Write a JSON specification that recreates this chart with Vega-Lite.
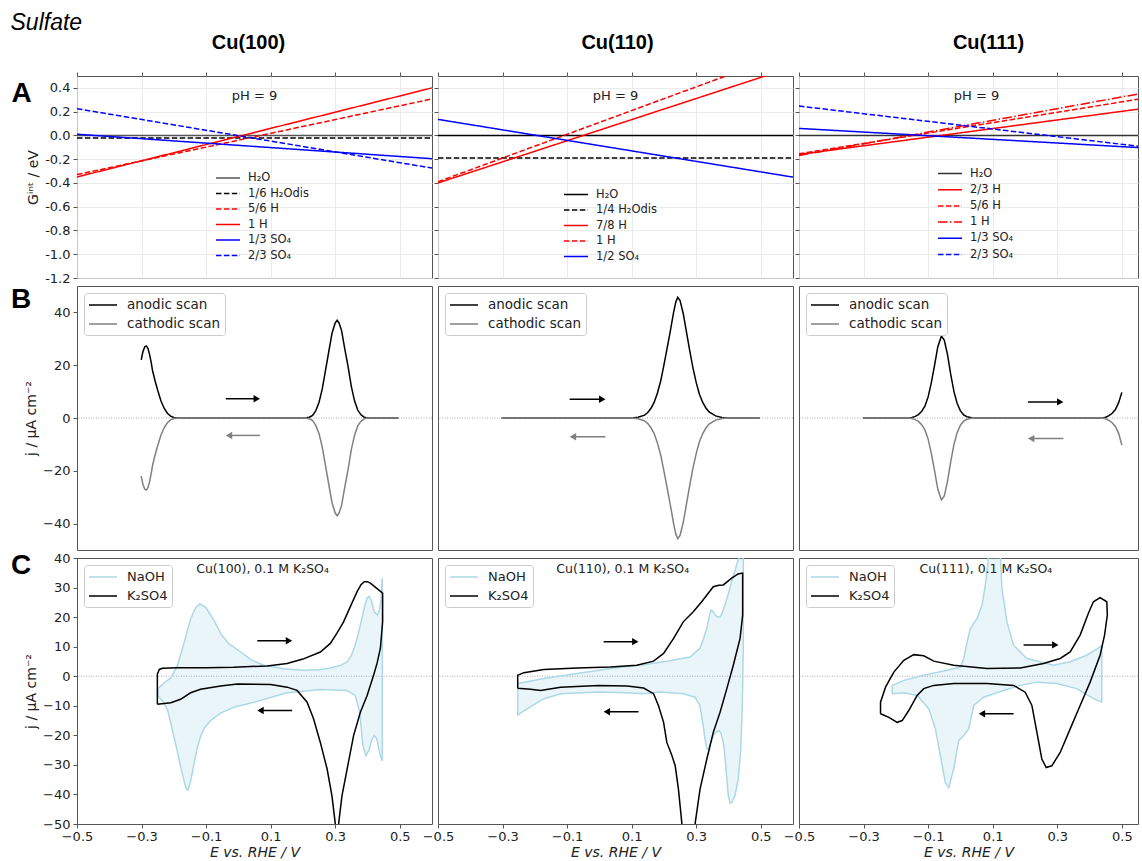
{
"$schema":"https://vega.github.io/schema/vega-lite/v6.json",
"background":"white",
"padding":{"left":10,"top":12,"right":2,"bottom":0},
"title":{"text":"Sulfate","anchor":"start","frame":"bounds","font":"Liberation Sans","fontSize":23,"fontStyle":"italic","fontWeight":"normal","color":"#000000","offset":-21,"baseline":"alphabetic"},
"datasets":{
"gA100":[{"E":-0.5,"G":0,"s":"H₂O"},{"E":0.6,"G":0,"s":"H₂O"},{"E":-0.5,"G":-0.022,"s":"1/6 H₂Odis"},{"E":0.6,"G":-0.022,"s":"1/6 H₂Odis"},{"E":-0.5,"G":-0.33,"s":"5/6 H"},{"E":0.6,"G":0.307,"s":"5/6 H"},{"E":-0.5,"G":-0.35,"s":"1 H"},{"E":0.6,"G":0.40,"s":"1 H"},{"E":-0.5,"G":0.01,"s":"1/3 SO₄"},{"E":0.6,"G":-0.196,"s":"1/3 SO₄"},{"E":-0.5,"G":0.225,"s":"2/3 SO₄"},{"E":0.6,"G":-0.275,"s":"2/3 SO₄"}],
"gA110":[{"E":-0.5,"G":0,"s":"H₂O"},{"E":0.6,"G":0,"s":"H₂O"},{"E":-0.5,"G":-0.19,"s":"1/4 H₂Odis"},{"E":0.6,"G":-0.19,"s":"1/4 H₂Odis"},{"E":-0.5,"G":-0.40,"s":"7/8 H"},{"E":0.6,"G":0.577,"s":"7/8 H"},{"E":-0.5,"G":-0.39,"s":"1 H"},{"E":0.6,"G":0.708,"s":"1 H"},{"E":-0.5,"G":0.135,"s":"1/2 SO₄"},{"E":0.6,"G":-0.351,"s":"1/2 SO₄"}],
"gA111":[{"E":-0.5,"G":0,"s":"H₂O"},{"E":0.6,"G":0,"s":"H₂O"},{"E":-0.5,"G":-0.16,"s":"2/3 H"},{"E":0.6,"G":0.239,"s":"2/3 H"},{"E":-0.5,"G":-0.155,"s":"5/6 H"},{"E":0.6,"G":0.326,"s":"5/6 H"},{"E":-0.5,"G":-0.169,"s":"1 H"},{"E":0.6,"G":0.373,"s":"1 H"},{"E":-0.5,"G":0.059,"s":"1/3 SO₄"},{"E":0.6,"G":-0.110,"s":"1/3 SO₄"},{"E":-0.5,"G":0.247,"s":"2/3 SO₄"},{"E":0.6,"G":-0.107,"s":"2/3 SO₄"}],
"b100":[{"E":-0.301,"j":22,"s":"anodic scan"},{"E":-0.296,"j":25,"s":"anodic scan"},{"E":-0.29,"j":27,"s":"anodic scan"},{"E":-0.285,"j":27.3,"s":"anodic scan"},{"E":-0.28,"j":26.3,"s":"anodic scan"},{"E":-0.275,"j":24,"s":"anodic scan"},{"E":-0.27,"j":21,"s":"anodic scan"},{"E":-0.266,"j":18,"s":"anodic scan"},{"E":-0.258,"j":14,"s":"anodic scan"},{"E":-0.25,"j":10.5,"s":"anodic scan"},{"E":-0.24,"j":6.5,"s":"anodic scan"},{"E":-0.23,"j":3.7,"s":"anodic scan"},{"E":-0.22,"j":1.8,"s":"anodic scan"},{"E":-0.21,"j":0.7,"s":"anodic scan"},{"E":-0.2,"j":0.2,"s":"anodic scan"},{"E":-0.19,"j":0.05,"s":"anodic scan"},{"E":-0.18,"j":0,"s":"anodic scan"},{"E":0.2,"j":0,"s":"anodic scan"},{"E":0.21,"j":0.1,"s":"anodic scan"},{"E":0.22,"j":0.3,"s":"anodic scan"},{"E":0.23,"j":1,"s":"anodic scan"},{"E":0.24,"j":2.8,"s":"anodic scan"},{"E":0.25,"j":6,"s":"anodic scan"},{"E":0.26,"j":11,"s":"anodic scan"},{"E":0.27,"j":18,"s":"anodic scan"},{"E":0.28,"j":25,"s":"anodic scan"},{"E":0.29,"j":32,"s":"anodic scan"},{"E":0.3,"j":36,"s":"anodic scan"},{"E":0.306,"j":37,"s":"anodic scan"},{"E":0.312,"j":36,"s":"anodic scan"},{"E":0.32,"j":33,"s":"anodic scan"},{"E":0.33,"j":26,"s":"anodic scan"},{"E":0.34,"j":19.5,"s":"anodic scan"},{"E":0.35,"j":12,"s":"anodic scan"},{"E":0.36,"j":6.5,"s":"anodic scan"},{"E":0.37,"j":3,"s":"anodic scan"},{"E":0.38,"j":1.2,"s":"anodic scan"},{"E":0.39,"j":0.3,"s":"anodic scan"},{"E":0.4,"j":0.05,"s":"anodic scan"},{"E":0.41,"j":0,"s":"anodic scan"},{"E":0.496,"j":0,"s":"anodic scan"},
{"E":-0.301,"j":-22,"s":"cathodic scan"},{"E":-0.296,"j":-25,"s":"cathodic scan"},{"E":-0.29,"j":-27,"s":"cathodic scan"},{"E":-0.285,"j":-27.3,"s":"cathodic scan"},{"E":-0.28,"j":-26.3,"s":"cathodic scan"},{"E":-0.275,"j":-24,"s":"cathodic scan"},{"E":-0.27,"j":-21,"s":"cathodic scan"},{"E":-0.266,"j":-18,"s":"cathodic scan"},{"E":-0.258,"j":-14,"s":"cathodic scan"},{"E":-0.25,"j":-10.5,"s":"cathodic scan"},{"E":-0.24,"j":-6.5,"s":"cathodic scan"},{"E":-0.23,"j":-3.7,"s":"cathodic scan"},{"E":-0.22,"j":-1.8,"s":"cathodic scan"},{"E":-0.21,"j":-0.7,"s":"cathodic scan"},{"E":-0.2,"j":-0.2,"s":"cathodic scan"},{"E":-0.19,"j":-0.05,"s":"cathodic scan"},{"E":-0.18,"j":0,"s":"cathodic scan"},{"E":0.2,"j":0,"s":"cathodic scan"},{"E":0.21,"j":-0.1,"s":"cathodic scan"},{"E":0.22,"j":-0.3,"s":"cathodic scan"},{"E":0.23,"j":-1,"s":"cathodic scan"},{"E":0.24,"j":-2.8,"s":"cathodic scan"},{"E":0.25,"j":-6,"s":"cathodic scan"},{"E":0.26,"j":-11,"s":"cathodic scan"},{"E":0.27,"j":-18,"s":"cathodic scan"},{"E":0.28,"j":-25,"s":"cathodic scan"},{"E":0.29,"j":-32,"s":"cathodic scan"},{"E":0.3,"j":-36,"s":"cathodic scan"},{"E":0.306,"j":-37,"s":"cathodic scan"},{"E":0.312,"j":-36,"s":"cathodic scan"},{"E":0.32,"j":-33,"s":"cathodic scan"},{"E":0.33,"j":-26,"s":"cathodic scan"},{"E":0.34,"j":-19.5,"s":"cathodic scan"},{"E":0.35,"j":-12,"s":"cathodic scan"},{"E":0.36,"j":-6.5,"s":"cathodic scan"},{"E":0.37,"j":-3,"s":"cathodic scan"},{"E":0.38,"j":-1.2,"s":"cathodic scan"},{"E":0.39,"j":-0.3,"s":"cathodic scan"},{"E":0.4,"j":-0.05,"s":"cathodic scan"},{"E":0.41,"j":0,"s":"cathodic scan"},{"E":0.496,"j":0,"s":"cathodic scan"}],
"b110":[{"E":-0.303,"j":0,"s":"anodic scan"},{"E":0.1,"j":0,"s":"anodic scan"},{"E":0.12,"j":0.3,"s":"anodic scan"},{"E":0.14,"j":1.1,"s":"anodic scan"},{"E":0.15,"j":2.1,"s":"anodic scan"},{"E":0.16,"j":3.7,"s":"anodic scan"},{"E":0.17,"j":6,"s":"anodic scan"},{"E":0.18,"j":9.5,"s":"anodic scan"},{"E":0.19,"j":14,"s":"anodic scan"},{"E":0.2,"j":20,"s":"anodic scan"},{"E":0.21,"j":26.5,"s":"anodic scan"},{"E":0.22,"j":33,"s":"anodic scan"},{"E":0.23,"j":40,"s":"anodic scan"},{"E":0.237,"j":44,"s":"anodic scan"},{"E":0.243,"j":45.7,"s":"anodic scan"},{"E":0.25,"j":44.5,"s":"anodic scan"},{"E":0.26,"j":39.5,"s":"anodic scan"},{"E":0.27,"j":32.5,"s":"anodic scan"},{"E":0.28,"j":25.5,"s":"anodic scan"},{"E":0.29,"j":19,"s":"anodic scan"},{"E":0.3,"j":13.5,"s":"anodic scan"},{"E":0.31,"j":9,"s":"anodic scan"},{"E":0.32,"j":6,"s":"anodic scan"},{"E":0.33,"j":3.8,"s":"anodic scan"},{"E":0.34,"j":2.3,"s":"anodic scan"},{"E":0.36,"j":0.8,"s":"anodic scan"},{"E":0.38,"j":0.2,"s":"anodic scan"},{"E":0.4,"j":0,"s":"anodic scan"},{"E":0.497,"j":0,"s":"anodic scan"},
{"E":-0.303,"j":0,"s":"cathodic scan"},{"E":0.1,"j":0,"s":"cathodic scan"},{"E":0.12,"j":-0.3,"s":"cathodic scan"},{"E":0.14,"j":-1.1,"s":"cathodic scan"},{"E":0.15,"j":-2.1,"s":"cathodic scan"},{"E":0.16,"j":-3.7,"s":"cathodic scan"},{"E":0.17,"j":-6,"s":"cathodic scan"},{"E":0.18,"j":-9.5,"s":"cathodic scan"},{"E":0.19,"j":-14,"s":"cathodic scan"},{"E":0.2,"j":-20,"s":"cathodic scan"},{"E":0.21,"j":-26.5,"s":"cathodic scan"},{"E":0.22,"j":-33,"s":"cathodic scan"},{"E":0.23,"j":-40,"s":"cathodic scan"},{"E":0.237,"j":-44,"s":"cathodic scan"},{"E":0.243,"j":-45.7,"s":"cathodic scan"},{"E":0.25,"j":-44.5,"s":"cathodic scan"},{"E":0.26,"j":-39.5,"s":"cathodic scan"},{"E":0.27,"j":-32.5,"s":"cathodic scan"},{"E":0.28,"j":-25.5,"s":"cathodic scan"},{"E":0.29,"j":-19,"s":"cathodic scan"},{"E":0.3,"j":-13.5,"s":"cathodic scan"},{"E":0.31,"j":-9,"s":"cathodic scan"},{"E":0.32,"j":-6,"s":"cathodic scan"},{"E":0.33,"j":-3.8,"s":"cathodic scan"},{"E":0.34,"j":-2.3,"s":"cathodic scan"},{"E":0.36,"j":-0.8,"s":"cathodic scan"},{"E":0.38,"j":-0.2,"s":"cathodic scan"},{"E":0.4,"j":0,"s":"cathodic scan"},{"E":0.497,"j":0,"s":"cathodic scan"}],
"b111":[{"E":-0.301,"j":0,"s":"anodic scan"},{"E":-0.16,"j":0,"s":"anodic scan"},{"E":-0.15,"j":0.2,"s":"anodic scan"},{"E":-0.14,"j":0.6,"s":"anodic scan"},{"E":-0.13,"j":1.3,"s":"anodic scan"},{"E":-0.12,"j":2.5,"s":"anodic scan"},{"E":-0.11,"j":4.5,"s":"anodic scan"},{"E":-0.1,"j":8,"s":"anodic scan"},{"E":-0.09,"j":13.5,"s":"anodic scan"},{"E":-0.08,"j":20,"s":"anodic scan"},{"E":-0.07,"j":27,"s":"anodic scan"},{"E":-0.059,"j":31,"s":"anodic scan"},{"E":-0.05,"j":29.5,"s":"anodic scan"},{"E":-0.04,"j":24,"s":"anodic scan"},{"E":-0.03,"j":16.5,"s":"anodic scan"},{"E":-0.02,"j":10,"s":"anodic scan"},{"E":-0.01,"j":5.5,"s":"anodic scan"},{"E":0,"j":2.7,"s":"anodic scan"},{"E":0.01,"j":1.2,"s":"anodic scan"},{"E":0.02,"j":0.5,"s":"anodic scan"},{"E":0.035,"j":0.1,"s":"anodic scan"},{"E":0.05,"j":0,"s":"anodic scan"},{"E":0.44,"j":0,"s":"anodic scan"},{"E":0.45,"j":0.3,"s":"anodic scan"},{"E":0.46,"j":0.9,"s":"anodic scan"},{"E":0.47,"j":1.8,"s":"anodic scan"},{"E":0.48,"j":3.2,"s":"anodic scan"},{"E":0.49,"j":5.8,"s":"anodic scan"},{"E":0.5,"j":9.7,"s":"anodic scan"},
{"E":-0.301,"j":0,"s":"cathodic scan"},{"E":-0.16,"j":0,"s":"cathodic scan"},{"E":-0.15,"j":-0.2,"s":"cathodic scan"},{"E":-0.14,"j":-0.6,"s":"cathodic scan"},{"E":-0.13,"j":-1.3,"s":"cathodic scan"},{"E":-0.12,"j":-2.5,"s":"cathodic scan"},{"E":-0.11,"j":-4.5,"s":"cathodic scan"},{"E":-0.1,"j":-8,"s":"cathodic scan"},{"E":-0.09,"j":-13.5,"s":"cathodic scan"},{"E":-0.08,"j":-20,"s":"cathodic scan"},{"E":-0.07,"j":-27,"s":"cathodic scan"},{"E":-0.059,"j":-31,"s":"cathodic scan"},{"E":-0.05,"j":-29.5,"s":"cathodic scan"},{"E":-0.04,"j":-24,"s":"cathodic scan"},{"E":-0.03,"j":-16.5,"s":"cathodic scan"},{"E":-0.02,"j":-10,"s":"cathodic scan"},{"E":-0.01,"j":-5.5,"s":"cathodic scan"},{"E":0,"j":-2.7,"s":"cathodic scan"},{"E":0.01,"j":-1.2,"s":"cathodic scan"},{"E":0.02,"j":-0.5,"s":"cathodic scan"},{"E":0.035,"j":-0.1,"s":"cathodic scan"},{"E":0.05,"j":0,"s":"cathodic scan"},{"E":0.44,"j":0,"s":"cathodic scan"},{"E":0.45,"j":-0.3,"s":"cathodic scan"},{"E":0.46,"j":-0.9,"s":"cathodic scan"},{"E":0.47,"j":-1.8,"s":"cathodic scan"},{"E":0.48,"j":-3.2,"s":"cathodic scan"},{"E":0.49,"j":-5.8,"s":"cathodic scan"},{"E":0.5,"j":-10.2,"s":"cathodic scan"}],
"c100":[{"E":-0.249,"j":-4.2,"s":"NaOH"},{"E":-0.23,"j":-2.2,"s":"NaOH"},{"E":-0.209,"j":-0.5,"s":"NaOH"},{"E":-0.189,"j":3.5,"s":"NaOH"},{"E":-0.168,"j":11.4,"s":"NaOH"},{"E":-0.148,"j":19.4,"s":"NaOH"},{"E":-0.132,"j":23.3,"s":"NaOH"},{"E":-0.119,"j":24.5,"s":"NaOH"},{"E":-0.101,"j":23.3,"s":"NaOH"},{"E":-0.075,"j":18.8,"s":"NaOH"},{"E":-0.055,"j":14.5,"s":"NaOH"},{"E":-0.03,"j":11,"s":"NaOH"},{"E":0.007,"j":8.2,"s":"NaOH"},{"E":0.04,"j":5.5,"s":"NaOH"},{"E":0.079,"j":3.7,"s":"NaOH"},{"E":0.14,"j":2.5,"s":"NaOH"},{"E":0.203,"j":2.0,"s":"NaOH"},{"E":0.25,"j":2.2,"s":"NaOH"},{"E":0.285,"j":2.8,"s":"NaOH"},{"E":0.315,"j":3.6,"s":"NaOH"},{"E":0.337,"j":4.8,"s":"NaOH"},{"E":0.35,"j":7,"s":"NaOH"},{"E":0.362,"j":10.5,"s":"NaOH"},{"E":0.373,"j":15,"s":"NaOH"},{"E":0.383,"j":19.6,"s":"NaOH"},{"E":0.392,"j":24,"s":"NaOH"},{"E":0.399,"j":26.4,"s":"NaOH"},{"E":0.405,"j":27,"s":"NaOH"},{"E":0.411,"j":26,"s":"NaOH"},{"E":0.421,"j":21.8,"s":"NaOH"},{"E":0.431,"j":20.7,"s":"NaOH"},{"E":0.438,"j":22.5,"s":"NaOH"},{"E":0.442,"j":26,"s":"NaOH"},{"E":0.446,"j":33.2,"s":"NaOH"},{"E":0.446,"j":-28.6,"s":"NaOH"},{"E":0.44,"j":-27,"s":"NaOH"},{"E":0.429,"j":-21.2,"s":"NaOH"},{"E":0.421,"j":-20.1,"s":"NaOH"},{"E":0.413,"j":-21.5,"s":"NaOH"},{"E":0.405,"j":-25,"s":"NaOH"},{"E":0.395,"j":-26.9,"s":"NaOH"},{"E":0.386,"j":-23.5,"s":"NaOH"},{"E":0.376,"j":-12.2,"s":"NaOH"},{"E":0.362,"j":-6.5,"s":"NaOH"},{"E":0.337,"j":-4.8,"s":"NaOH"},{"E":0.254,"j":-4.5,"s":"NaOH"},{"E":0.151,"j":-5.6,"s":"NaOH"},{"E":0.048,"j":-8.8,"s":"NaOH"},{"E":-0.014,"j":-10.5,"s":"NaOH"},{"E":-0.055,"j":-12.5,"s":"NaOH"},{"E":-0.086,"j":-15,"s":"NaOH"},{"E":-0.105,"j":-17.5,"s":"NaOH"},{"E":-0.117,"j":-20.3,"s":"NaOH"},{"E":-0.128,"j":-24.5,"s":"NaOH"},{"E":-0.137,"j":-29.4,"s":"NaOH"},{"E":-0.145,"j":-34,"s":"NaOH"},{"E":-0.15,"j":-36.2,"s":"NaOH"},{"E":-0.156,"j":-38.5,"s":"NaOH"},{"E":-0.162,"j":-38,"s":"NaOH"},{"E":-0.167,"j":-36,"s":"NaOH"},{"E":-0.179,"j":-30.5,"s":"NaOH"},{"E":-0.19,"j":-25,"s":"NaOH"},{"E":-0.2,"j":-20.3,"s":"NaOH"},{"E":-0.21,"j":-15.5,"s":"NaOH"},{"E":-0.22,"j":-11.2,"s":"NaOH"},{"E":-0.235,"j":-8.4,"s":"NaOH"},{"E":-0.249,"j":-6.7,"s":"NaOH"},{"E":-0.249,"j":-4.2,"s":"NaOH"},
{"E":-0.251,"j":-9.5,"s":"K₂SO4"},{"E":-0.251,"j":0.7,"s":"K₂SO4"},{"E":-0.245,"j":2.3,"s":"K₂SO4"},{"E":-0.235,"j":2.7,"s":"K₂SO4"},{"E":-0.189,"j":2.9,"s":"K₂SO4"},{"E":-0.1,"j":2.9,"s":"K₂SO4"},{"E":-0.014,"j":3.0,"s":"K₂SO4"},{"E":0.089,"j":3.5,"s":"K₂SO4"},{"E":0.151,"j":4.3,"s":"K₂SO4"},{"E":0.2,"j":5.8,"s":"K₂SO4"},{"E":0.254,"j":8.2,"s":"K₂SO4"},{"E":0.285,"j":11.1,"s":"K₂SO4"},{"E":0.305,"j":14.5,"s":"K₂SO4"},{"E":0.326,"j":18.4,"s":"K₂SO4"},{"E":0.348,"j":23.8,"s":"K₂SO4"},{"E":0.368,"j":28.6,"s":"K₂SO4"},{"E":0.38,"j":31,"s":"K₂SO4"},{"E":0.39,"j":32,"s":"K₂SO4"},{"E":0.4,"j":32,"s":"K₂SO4"},{"E":0.409,"j":31.5,"s":"K₂SO4"},{"E":0.428,"j":29.8,"s":"K₂SO4"},{"E":0.447,"j":28.1,"s":"K₂SO4"},{"E":0.447,"j":18.4,"s":"K₂SO4"},{"E":0.44,"j":9.4,"s":"K₂SO4"},{"E":0.43,"j":4.5,"s":"K₂SO4"},{"E":0.419,"j":0.3,"s":"K₂SO4"},{"E":0.399,"j":-6.5,"s":"K₂SO4"},{"E":0.378,"j":-12.2,"s":"K₂SO4"},{"E":0.357,"j":-20.1,"s":"K₂SO4"},{"E":0.337,"j":-31.4,"s":"K₂SO4"},{"E":0.321,"j":-40.5,"s":"K₂SO4"},{"E":0.311,"j":-49.6,"s":"K₂SO4"},{"E":0.308,"j":-56,"s":"K₂SO4"},{"E":0.302,"j":-56,"s":"K₂SO4"},{"E":0.3,"j":-49.6,"s":"K₂SO4"},{"E":0.29,"j":-40.5,"s":"K₂SO4"},{"E":0.275,"j":-31.4,"s":"K₂SO4"},{"E":0.254,"j":-22.4,"s":"K₂SO4"},{"E":0.233,"j":-14.4,"s":"K₂SO4"},{"E":0.213,"j":-8.8,"s":"K₂SO4"},{"E":0.182,"j":-4.8,"s":"K₂SO4"},{"E":0.151,"j":-3.7,"s":"K₂SO4"},{"E":0.1,"j":-2.8,"s":"K₂SO4"},{"E":-0.003,"j":-2.6,"s":"K₂SO4"},{"E":-0.055,"j":-3.3,"s":"K₂SO4"},{"E":-0.117,"j":-4.4,"s":"K₂SO4"},{"E":-0.148,"j":-5.6,"s":"K₂SO4"},{"E":-0.179,"j":-7.8,"s":"K₂SO4"},{"E":-0.209,"j":-9,"s":"K₂SO4"},{"E":-0.251,"j":-9.5,"s":"K₂SO4"}],
"c110":[{"E":-0.253,"j":-2.5,"s":"NaOH"},{"E":-0.172,"j":-0.8,"s":"NaOH"},{"E":-0.069,"j":0.9,"s":"NaOH"},{"E":0.034,"j":2.6,"s":"NaOH"},{"E":0.137,"j":3.9,"s":"NaOH"},{"E":0.209,"j":5.1,"s":"NaOH"},{"E":0.281,"j":6.5,"s":"NaOH"},{"E":0.3115,"j":9.4,"s":"NaOH"},{"E":0.322,"j":12.5,"s":"NaOH"},{"E":0.333,"j":16.2,"s":"NaOH"},{"E":0.34,"j":20,"s":"NaOH"},{"E":0.346,"j":22.4,"s":"NaOH"},{"E":0.352,"j":22,"s":"NaOH"},{"E":0.359,"j":20.7,"s":"NaOH"},{"E":0.366,"j":20,"s":"NaOH"},{"E":0.374,"j":20,"s":"NaOH"},{"E":0.381,"j":21.5,"s":"NaOH"},{"E":0.389,"j":24.1,"s":"NaOH"},{"E":0.4,"j":28,"s":"NaOH"},{"E":0.41,"j":32,"s":"NaOH"},{"E":0.4255,"j":37.7,"s":"NaOH"},{"E":0.436,"j":41.1,"s":"NaOH"},{"E":0.442,"j":46,"s":"NaOH"},{"E":0.446,"j":46,"s":"NaOH"},{"E":0.446,"j":10,"s":"NaOH"},{"E":0.443,"j":-10,"s":"NaOH"},{"E":0.438,"j":-25,"s":"NaOH"},{"E":0.43,"j":-35,"s":"NaOH"},{"E":0.42,"j":-40.5,"s":"NaOH"},{"E":0.41,"j":-42.8,"s":"NaOH"},{"E":0.405,"j":-43,"s":"NaOH"},{"E":0.399,"j":-40,"s":"NaOH"},{"E":0.393,"j":-32,"s":"NaOH"},{"E":0.389,"j":-27,"s":"NaOH"},{"E":0.384,"j":-22.4,"s":"NaOH"},{"E":0.376,"j":-19,"s":"NaOH"},{"E":0.369,"j":-18.4,"s":"NaOH"},{"E":0.36,"j":-19,"s":"NaOH"},{"E":0.353,"j":-20.1,"s":"NaOH"},{"E":0.345,"j":-22.5,"s":"NaOH"},{"E":0.338,"j":-24.6,"s":"NaOH"},{"E":0.333,"j":-24.6,"s":"NaOH"},{"E":0.327,"j":-21,"s":"NaOH"},{"E":0.322,"j":-17,"s":"NaOH"},{"E":0.3115,"j":-9.9,"s":"NaOH"},{"E":0.2966,"j":-7.1,"s":"NaOH"},{"E":0.2604,"j":-5.9,"s":"NaOH"},{"E":0.188,"j":-5.3,"s":"NaOH"},{"E":0.137,"j":-5.9,"s":"NaOH"},{"E":0.0855,"j":-5.6,"s":"NaOH"},{"E":-0.002,"j":-5.3,"s":"NaOH"},{"E":-0.12,"j":-5.9,"s":"NaOH"},{"E":-0.172,"j":-7.6,"s":"NaOH"},{"E":-0.223,"j":-11,"s":"NaOH"},{"E":-0.253,"j":-13.1,"s":"NaOH"},{"E":-0.253,"j":-2.5,"s":"NaOH"},
{"E":-0.253,"j":-4.1,"s":"K₂SO4"},{"E":-0.253,"j":0.3,"s":"K₂SO4"},{"E":-0.234,"j":1.2,"s":"K₂SO4"},{"E":-0.172,"j":2.3,"s":"K₂SO4"},{"E":-0.069,"j":2.8,"s":"K₂SO4"},{"E":0.034,"j":3.1,"s":"K₂SO4"},{"E":0.116,"j":3.7,"s":"K₂SO4"},{"E":0.168,"j":5.1,"s":"K₂SO4"},{"E":0.199,"j":7.7,"s":"K₂SO4"},{"E":0.23,"j":12.8,"s":"K₂SO4"},{"E":0.26,"j":18.4,"s":"K₂SO4"},{"E":0.291,"j":21.8,"s":"K₂SO4"},{"E":0.317,"j":25.2,"s":"K₂SO4"},{"E":0.353,"j":30.3,"s":"K₂SO4"},{"E":0.37,"j":30.8,"s":"K₂SO4"},{"E":0.384,"j":30.9,"s":"K₂SO4"},{"E":0.41,"j":33.2,"s":"K₂SO4"},{"E":0.43,"j":34.6,"s":"K₂SO4"},{"E":0.444,"j":34.9,"s":"K₂SO4"},{"E":0.444,"j":20.7,"s":"K₂SO4"},{"E":0.436,"j":12.8,"s":"K₂SO4"},{"E":0.415,"j":3.7,"s":"K₂SO4"},{"E":0.395,"j":-4.2,"s":"K₂SO4"},{"E":0.374,"j":-12.2,"s":"K₂SO4"},{"E":0.353,"j":-19,"s":"K₂SO4"},{"E":0.333,"j":-28,"s":"K₂SO4"},{"E":0.312,"j":-38.2,"s":"K₂SO4"},{"E":0.297,"j":-49.6,"s":"K₂SO4"},{"E":0.294,"j":-56,"s":"K₂SO4"},{"E":0.257,"j":-56,"s":"K₂SO4"},{"E":0.2555,"j":-49.6,"s":"K₂SO4"},{"E":0.245,"j":-38.2,"s":"K₂SO4"},{"E":0.235,"j":-30.3,"s":"K₂SO4"},{"E":0.225,"j":-26.9,"s":"K₂SO4"},{"E":0.209,"j":-22.4,"s":"K₂SO4"},{"E":0.199,"j":-15.6,"s":"K₂SO4"},{"E":0.183,"j":-9.9,"s":"K₂SO4"},{"E":0.168,"j":-5.9,"s":"K₂SO4"},{"E":0.137,"j":-4,"s":"K₂SO4"},{"E":0.0855,"j":-3.3,"s":"K₂SO4"},{"E":-0.002,"j":-3.1,"s":"K₂SO4"},{"E":-0.12,"j":-3.7,"s":"K₂SO4"},{"E":-0.1825,"j":-4.8,"s":"K₂SO4"},{"E":-0.213,"j":-4.4,"s":"K₂SO4"},{"E":-0.253,"j":-4.1,"s":"K₂SO4"}],
"c111":[{"E":-0.2113,"j":-5.9,"s":"NaOH"},{"E":-0.2113,"j":-3.1,"s":"NaOH"},{"E":-0.1754,"j":-1.4,"s":"NaOH"},{"E":-0.1136,"j":0.3,"s":"NaOH"},{"E":-0.0415,"j":2,"s":"NaOH"},{"E":0.0,"j":3.1,"s":"NaOH"},{"E":0.0103,"j":6,"s":"NaOH"},{"E":0.0206,"j":11.6,"s":"NaOH"},{"E":0.031,"j":16.2,"s":"NaOH"},{"E":0.0516,"j":19.6,"s":"NaOH"},{"E":0.067,"j":24.1,"s":"NaOH"},{"E":0.076,"j":30,"s":"NaOH"},{"E":0.0824,"j":35.4,"s":"NaOH"},{"E":0.0876,"j":41,"s":"NaOH"},{"E":0.09,"j":46,"s":"NaOH"},{"E":0.12,"j":46,"s":"NaOH"},{"E":0.1235,"j":41,"s":"NaOH"},{"E":0.1286,"j":29.8,"s":"NaOH"},{"E":0.144,"j":18.4,"s":"NaOH"},{"E":0.1646,"j":10.5,"s":"NaOH"},{"E":0.2058,"j":6,"s":"NaOH"},{"E":0.247,"j":4.9,"s":"NaOH"},{"E":0.288,"j":3.7,"s":"NaOH"},{"E":0.3399,"j":4.9,"s":"NaOH"},{"E":0.3914,"j":7.1,"s":"NaOH"},{"E":0.4326,"j":9.9,"s":"NaOH"},{"E":0.4378,"j":10.5,"s":"NaOH"},{"E":0.4378,"j":-8.8,"s":"NaOH"},{"E":0.4119,"j":-7.6,"s":"NaOH"},{"E":0.3605,"j":-4.2,"s":"NaOH"},{"E":0.2985,"j":-2.5,"s":"NaOH"},{"E":0.2367,"j":-2,"s":"NaOH"},{"E":0.1853,"j":-3.1,"s":"NaOH"},{"E":0.1338,"j":-4.8,"s":"NaOH"},{"E":0.0721,"j":-7.1,"s":"NaOH"},{"E":0.0412,"j":-9.9,"s":"NaOH"},{"E":0.0255,"j":-17.8,"s":"NaOH"},{"E":0.0103,"j":-20.1,"s":"NaOH"},{"E":-0.0055,"j":-21.8,"s":"NaOH"},{"E":-0.0209,"j":-31.4,"s":"NaOH"},{"E":-0.0363,"j":-37.7,"s":"NaOH"},{"E":-0.0466,"j":-36,"s":"NaOH"},{"E":-0.062,"j":-26.9,"s":"NaOH"},{"E":-0.0775,"j":-17.8,"s":"NaOH"},{"E":-0.0981,"j":-11,"s":"NaOH"},{"E":-0.1342,"j":-6.5,"s":"NaOH"},{"E":-0.1754,"j":-5.6,"s":"NaOH"},{"E":-0.2113,"j":-5.9,"s":"NaOH"},
{"E":-0.2475,"j":-12.7,"s":"K₂SO4"},{"E":-0.2475,"j":-8.8,"s":"K₂SO4"},{"E":-0.232,"j":-3.7,"s":"K₂SO4"},{"E":-0.2063,"j":1.4,"s":"K₂SO4"},{"E":-0.1754,"j":5.4,"s":"K₂SO4"},{"E":-0.1445,"j":7.3,"s":"K₂SO4"},{"E":-0.1136,"j":6.9,"s":"K₂SO4"},{"E":-0.0827,"j":5.1,"s":"K₂SO4"},{"E":-0.0209,"j":3.7,"s":"K₂SO4"},{"E":0.0824,"j":2.6,"s":"K₂SO4"},{"E":0.1853,"j":2.8,"s":"K₂SO4"},{"E":0.2573,"j":4.3,"s":"K₂SO4"},{"E":0.309,"j":6,"s":"K₂SO4"},{"E":0.3399,"j":8.2,"s":"K₂SO4"},{"E":0.3708,"j":13.9,"s":"K₂SO4"},{"E":0.3964,"j":21.3,"s":"K₂SO4"},{"E":0.4119,"j":25.2,"s":"K₂SO4"},{"E":0.4326,"j":26.6,"s":"K₂SO4"},{"E":0.4533,"j":25.2,"s":"K₂SO4"},{"E":0.455,"j":20.7,"s":"K₂SO4"},{"E":0.4464,"j":13.9,"s":"K₂SO4"},{"E":0.4326,"j":7.1,"s":"K₂SO4"},{"E":0.4017,"j":-2,"s":"K₂SO4"},{"E":0.3708,"j":-9.9,"s":"K₂SO4"},{"E":0.3399,"j":-17.8,"s":"K₂SO4"},{"E":0.309,"j":-25.8,"s":"K₂SO4"},{"E":0.2831,"j":-30.3,"s":"K₂SO4"},{"E":0.2657,"j":-30.9,"s":"K₂SO4"},{"E":0.2521,"j":-28,"s":"K₂SO4"},{"E":0.2369,"j":-19,"s":"K₂SO4"},{"E":0.2213,"j":-9.9,"s":"K₂SO4"},{"E":0.2007,"j":-5.4,"s":"K₂SO4"},{"E":0.1646,"j":-3.1,"s":"K₂SO4"},{"E":0.0824,"j":-2.5,"s":"K₂SO4"},{"E":-0.0209,"j":-2.5,"s":"K₂SO4"},{"E":-0.0827,"j":-3.1,"s":"K₂SO4"},{"E":-0.1136,"j":-4.2,"s":"K₂SO4"},{"E":-0.1342,"j":-6.5,"s":"K₂SO4"},{"E":-0.16,"j":-11.6,"s":"K₂SO4"},{"E":-0.1804,"j":-15,"s":"K₂SO4"},{"E":-0.1959,"j":-15.6,"s":"K₂SO4"},{"E":-0.2217,"j":-13.9,"s":"K₂SO4"},{"E":-0.2475,"j":-12.7,"s":"K₂SO4"}],
"arB100":[{"E":-0.039,"j":7.3,"a":"R","h":0},{"E":0.057,"j":7.3,"a":"R","h":1},{"E":0.067,"j":-6.6,"a":"L","h":0},{"E":-0.029,"j":-6.6,"a":"L","h":1}],
"arB110":[{"E":-0.092,"j":7.1,"a":"R","h":0},{"E":0.009,"j":7.1,"a":"R","h":1},{"E":0.019,"j":-7.1,"a":"L","h":0},{"E":-0.082,"j":-7.1,"a":"L","h":1}],
"arB111":[{"E":0.209,"j":6.1,"a":"R","h":0},{"E":0.309,"j":6.1,"a":"R","h":1},{"E":0.319,"j":-7.8,"a":"L","h":0},{"E":0.219,"j":-7.8,"a":"L","h":1}],
"arC100":[{"E":0.0585,"j":12,"a":"R","h":0},{"E":0.1567,"j":12,"a":"R","h":1},{"E":0.1667,"j":-11.6,"a":"L","h":0},{"E":0.0685,"j":-11.6,"a":"L","h":1}],
"arC110":[{"E":0.0132,"j":11.7,"a":"R","h":0},{"E":0.1114,"j":11.7,"a":"R","h":1},{"E":0.1214,"j":-12,"a":"L","h":0},{"E":0.0232,"j":-12,"a":"L","h":1}],
"arC111":[{"E":0.1956,"j":10.6,"a":"R","h":0},{"E":0.2938,"j":10.6,"a":"R","h":1},{"E":0.1647,"j":-12.7,"a":"L","h":0},{"E":0.0666,"j":-12.7,"a":"L","h":1}]
},
"columns":3,
"spacing":{"row":8,"column":6},
"bounds":"flush",
"resolve":{"scale":{"color":"independent","strokeDash":"independent","x":"independent","y":"independent"}},
"concat":[
 {"width":355,"height":202,
  "title":{"text":"Cu(100)","font":"Liberation Sans","fontSize":20,"fontWeight":"bold","color":"#000000","anchor":"middle","frame":"group","offset":3,"baseline":"alphabetic","dx":-6},
  "layer":[
   {"data":{"name":"gA100"},"mark":{"type":"line","clip":true,"strokeWidth":1.5},
    "encoding":{
     "x":{"field":"E","type":"quantitative","scale":{"domain":[-0.5,0.6],"nice":false,"zero":false},"axis":{"orient":"top","values":[-0.5,-0.3,-0.1,0.1,0.3,0.5],"tickCount":20,"labels":false,"grid":true,"title":"A","titleX":-66,"titleY":25,"titleAlign":"left","titleAnchor":"start","titleBaseline":"alphabetic","titleAngle":0,"titleFont":"Liberation Sans","titleFontSize":28,"titleFontWeight":"bold","titleColor":"#000000"}},
     "y":{"field":"G","type":"quantitative","scale":{"domain":[-1.2,0.5],"nice":false,"zero":false},"axis":{"values":[-1.2,-1.0,-0.8,-0.6,-0.4,-0.2,0,0.2,0.4],"tickCount":20,"grid":true,"labelOverlap":false,"title":"Gⁱⁿᵗ / eV","labelExpr":"replace(format(datum.value,'.1f'),'−','-')"}},
     "color":{"field":"s","type":"nominal","scale":{"domain":["H₂O","1/6 H₂Odis","5/6 H","1 H","1/3 SO₄","2/3 SO₄"],"range":["#555555","#000000","#ff0000","#ff0000","#0000ff","#0000ff"]},"legend":{"title":null,"orient":"none","legendX":138,"legendY":95,"padding":0,"symbolType":"M-1,0L3,0","symbolSize":144,"symbolStrokeWidth":1.5,"labelOffset":19,"labelFontSize":11.5,"rowPadding":2.5}},
     "strokeDash":{"field":"s","type":"nominal","scale":{"domain":["H₂O","1/6 H₂Odis","5/6 H","1 H","1/3 SO₄","2/3 SO₄"],"range":[[1,0],[5.5,2.4],[5.5,2.4],[1,0],[1,0],[5.5,2.4]]},"legend":{"title":null,"orient":"none","legendX":138,"legendY":95,"padding":0,"symbolType":"M-1,0L3,0","symbolSize":144,"symbolStrokeWidth":1.5,"labelOffset":19,"labelFontSize":11.5,"rowPadding":2.5}}
    }},
   {"data":{"values":[{}]},"mark":{"type":"text","fontSize":13,"color":"#222222"},"encoding":{"x":{"datum":0.05},"y":{"datum":0.33},"text":{"value":"pH = 9"}}}
  ]},
 {"width":355,"height":202,
  "title":{"text":"Cu(110)","font":"Liberation Sans","fontSize":20,"fontWeight":"bold","color":"#000000","anchor":"middle","frame":"group","offset":3,"baseline":"alphabetic","dx":2},
  "layer":[
   {"data":{"name":"gA110"},"mark":{"type":"line","clip":true,"strokeWidth":1.5},
    "encoding":{
     "x":{"field":"E","type":"quantitative","scale":{"domain":[-0.5,0.6],"nice":false,"zero":false},"axis":{"orient":"top","values":[-0.5,-0.3,-0.1,0.1,0.3,0.5],"tickCount":20,"labels":false,"grid":true,"title":null}},
     "y":{"field":"G","type":"quantitative","scale":{"domain":[-1.2,0.5],"nice":false,"zero":false},"axis":{"values":[-1.2,-1.0,-0.8,-0.6,-0.4,-0.2,0,0.2,0.4],"tickCount":20,"grid":true,"labels":false,"title":null}},
     "color":{"field":"s","type":"nominal","scale":{"domain":["H₂O","1/4 H₂Odis","7/8 H","1 H","1/2 SO₄"],"range":["#000000","#000000","#ff0000","#ff0000","#0000ff"]},"legend":{"title":null,"orient":"none","legendX":125,"legendY":111.5,"padding":0,"symbolType":"M-1,0L3,0","symbolSize":144,"symbolStrokeWidth":1.5,"labelOffset":19,"labelFontSize":11.5,"rowPadding":2.5}},
     "strokeDash":{"field":"s","type":"nominal","scale":{"domain":["H₂O","1/4 H₂Odis","7/8 H","1 H","1/2 SO₄"],"range":[[1,0],[5.5,2.4],[1,0],[5.5,2.4],[1,0]]},"legend":{"title":null,"orient":"none","legendX":125,"legendY":111.5,"padding":0,"symbolType":"M-1,0L3,0","symbolSize":144,"symbolStrokeWidth":1.5,"labelOffset":19,"labelFontSize":11.5,"rowPadding":2.5}}
    }},
   {"data":{"values":[{}]},"mark":{"type":"text","fontSize":13,"color":"#222222"},"encoding":{"x":{"datum":0.05},"y":{"datum":0.33},"text":{"value":"pH = 9"}}}
  ]},
 {"width":339,"height":202,
  "title":{"text":"Cu(111)","font":"Liberation Sans","fontSize":20,"fontWeight":"bold","color":"#000000","anchor":"middle","frame":"group","offset":3,"baseline":"alphabetic","dx":20},
  "layer":[
   {"data":{"name":"gA111"},"mark":{"type":"line","clip":true,"strokeWidth":1.5},
    "encoding":{
     "x":{"field":"E","type":"quantitative","scale":{"domain":[-0.5,0.55],"nice":false,"zero":false},"axis":{"orient":"top","values":[-0.5,-0.3,-0.1,0.1,0.3,0.5],"tickCount":20,"labels":false,"grid":true,"title":null}},
     "y":{"field":"G","type":"quantitative","scale":{"domain":[-1.2,0.5],"nice":false,"zero":false},"axis":{"values":[-1.2,-1.0,-0.8,-0.6,-0.4,-0.2,0,0.2,0.4],"tickCount":20,"grid":true,"labels":false,"title":null}},
     "color":{"field":"s","type":"nominal","scale":{"domain":["H₂O","2/3 H","5/6 H","1 H","1/3 SO₄","2/3 SO₄"],"range":["#333333","#ff0000","#ff0000","#ff0000","#0000ff","#0000ff"]},"legend":{"title":null,"orient":"none","legendX":138,"legendY":90.5,"padding":0,"symbolType":"M-1,0L3,0","symbolSize":144,"symbolStrokeWidth":1.5,"labelOffset":19,"labelFontSize":11.5,"rowPadding":3.2}},
     "strokeDash":{"field":"s","type":"nominal","scale":{"domain":["H₂O","2/3 H","5/6 H","1 H","1/3 SO₄","2/3 SO₄"],"range":[[1,0],[1,0],[5.5,2.4],[9.6,2.4,1.5,2.4],[1,0],[5.5,2.4]]},"legend":{"title":null,"orient":"none","legendX":138,"legendY":90.5,"padding":0,"symbolType":"M-1,0L3,0","symbolSize":144,"symbolStrokeWidth":1.5,"labelOffset":19,"labelFontSize":11.5,"rowPadding":3.2}}
    }},
   {"data":{"values":[{}]},"mark":{"type":"text","fontSize":13,"color":"#222222"},"encoding":{"x":{"datum":0.05},"y":{"datum":0.33},"text":{"value":"pH = 9"}}}
  ]},
 {"width":355,"height":264,
  "title":{"text":"B","font":"Liberation Sans","fontSize":28,"fontWeight":"bold","color":"#000000","anchor":"start","frame":"group","offset":-26,"dx":-66,"dy":24,"baseline":"alphabetic"},
  "layer":[
   {"data":{"name":"b100"},"mark":{"type":"line","clip":true,"strokeWidth":1.5},
    "encoding":{
     "x":{"field":"E","type":"quantitative","scale":{"domain":[-0.5,0.6],"nice":false,"zero":false},"axis":null},
     "y":{"field":"j","type":"quantitative","scale":{"domain":[-50,50],"nice":false,"zero":false},"axis":{"values":[-40,-20,0,20,40],"tickCount":20,"labelOverlap":false,"title":"j / μA cm⁻²"}},
     "color":{"field":"s","type":"nominal","scale":{"domain":["anodic scan","cathodic scan"],"range":["#000000","#808080"]},"legend":{"title":null,"orient":"top-left","offset":6.5,"padding":4,"symbolType":"M-1,0L3,0","symbolSize":196,"symbolStrokeWidth":1.5,"labelOffset":23,"labelFontSize":13.5,"rowPadding":4,"strokeColor":"#cccccc","cornerRadius":3,"fillColor":"#ffffff"}}}},
   {"data":{"values":[{}]},"mark":{"type":"rule","color":"#999999","strokeWidth":0.8,"strokeDash":[1,1.5]},"encoding":{"y":{"datum":0}}},
   {"data":{"name":"arB100"},"transform":[{"filter":"datum.a === 'R'"}],"mark":{"type":"line","color":"#000000","strokeWidth":1.5},"encoding":{"x":{"field":"E","type":"quantitative","axis":null},"y":{"field":"j","type":"quantitative"}}},
   {"data":{"name":"arB100"},"transform":[{"filter":"datum.a === 'L'"}],"mark":{"type":"line","color":"#808080","strokeWidth":1.5},"encoding":{"x":{"field":"E","type":"quantitative","axis":null},"y":{"field":"j","type":"quantitative"}}},
   {"data":{"name":"arB100"},"transform":[{"filter":"datum.a === 'R' && datum.h === 1"}],"mark":{"type":"point","shape":"triangle-right","filled":true,"size":55,"color":"#000000","opacity":1},"encoding":{"x":{"field":"E","type":"quantitative","axis":null},"y":{"field":"j","type":"quantitative"}}},
   {"data":{"name":"arB100"},"transform":[{"filter":"datum.a === 'L' && datum.h === 1"}],"mark":{"type":"point","shape":"triangle-left","filled":true,"size":55,"color":"#808080","opacity":1},"encoding":{"x":{"field":"E","type":"quantitative","axis":null},"y":{"field":"j","type":"quantitative"}}}
  ]},
 {"width":355,"height":264,
  "layer":[
   {"data":{"name":"b110"},"mark":{"type":"line","clip":true,"strokeWidth":1.5},
    "encoding":{
     "x":{"field":"E","type":"quantitative","scale":{"domain":[-0.5,0.6],"nice":false,"zero":false},"axis":null},
     "y":{"field":"j","type":"quantitative","scale":{"domain":[-50,50],"nice":false,"zero":false},"axis":null},
     "color":{"field":"s","type":"nominal","scale":{"domain":["anodic scan","cathodic scan"],"range":["#000000","#808080"]},"legend":{"title":null,"orient":"top-left","offset":6.5,"padding":4,"symbolType":"M-1,0L3,0","symbolSize":196,"symbolStrokeWidth":1.5,"labelOffset":23,"labelFontSize":13.5,"rowPadding":4,"strokeColor":"#cccccc","cornerRadius":3,"fillColor":"#ffffff"}}}},
   {"data":{"values":[{}]},"mark":{"type":"rule","color":"#999999","strokeWidth":0.8,"strokeDash":[1,1.5]},"encoding":{"y":{"datum":0,"axis":null}}},
   {"data":{"name":"arB110"},"transform":[{"filter":"datum.a === 'R'"}],"mark":{"type":"line","color":"#000000","strokeWidth":1.5},"encoding":{"x":{"field":"E","type":"quantitative","axis":null},"y":{"field":"j","type":"quantitative","axis":null}}},
   {"data":{"name":"arB110"},"transform":[{"filter":"datum.a === 'L'"}],"mark":{"type":"line","color":"#808080","strokeWidth":1.5},"encoding":{"x":{"field":"E","type":"quantitative","axis":null},"y":{"field":"j","type":"quantitative","axis":null}}},
   {"data":{"name":"arB110"},"transform":[{"filter":"datum.a === 'R' && datum.h === 1"}],"mark":{"type":"point","shape":"triangle-right","filled":true,"size":55,"color":"#000000","opacity":1},"encoding":{"x":{"field":"E","type":"quantitative","axis":null},"y":{"field":"j","type":"quantitative","axis":null}}},
   {"data":{"name":"arB110"},"transform":[{"filter":"datum.a === 'L' && datum.h === 1"}],"mark":{"type":"point","shape":"triangle-left","filled":true,"size":55,"color":"#808080","opacity":1},"encoding":{"x":{"field":"E","type":"quantitative","axis":null},"y":{"field":"j","type":"quantitative","axis":null}}}
  ]},
 {"width":339,"height":264,
  "layer":[
   {"data":{"name":"b111"},"mark":{"type":"line","clip":true,"strokeWidth":1.5},
    "encoding":{
     "x":{"field":"E","type":"quantitative","scale":{"domain":[-0.5,0.55],"nice":false,"zero":false},"axis":null},
     "y":{"field":"j","type":"quantitative","scale":{"domain":[-50,50],"nice":false,"zero":false},"axis":null},
     "color":{"field":"s","type":"nominal","scale":{"domain":["anodic scan","cathodic scan"],"range":["#000000","#808080"]},"legend":{"title":null,"orient":"top-left","offset":6.5,"padding":4,"symbolType":"M-1,0L3,0","symbolSize":196,"symbolStrokeWidth":1.5,"labelOffset":23,"labelFontSize":13.5,"rowPadding":4,"strokeColor":"#cccccc","cornerRadius":3,"fillColor":"#ffffff"}}}},
   {"data":{"values":[{}]},"mark":{"type":"rule","color":"#999999","strokeWidth":0.8,"strokeDash":[1,1.5]},"encoding":{"y":{"datum":0,"axis":null}}},
   {"data":{"name":"arB111"},"transform":[{"filter":"datum.a === 'R'"}],"mark":{"type":"line","color":"#000000","strokeWidth":1.5},"encoding":{"x":{"field":"E","type":"quantitative","axis":null},"y":{"field":"j","type":"quantitative","axis":null}}},
   {"data":{"name":"arB111"},"transform":[{"filter":"datum.a === 'L'"}],"mark":{"type":"line","color":"#808080","strokeWidth":1.5},"encoding":{"x":{"field":"E","type":"quantitative","axis":null},"y":{"field":"j","type":"quantitative","axis":null}}},
   {"data":{"name":"arB111"},"transform":[{"filter":"datum.a === 'R' && datum.h === 1"}],"mark":{"type":"point","shape":"triangle-right","filled":true,"size":55,"color":"#000000","opacity":1},"encoding":{"x":{"field":"E","type":"quantitative","axis":null},"y":{"field":"j","type":"quantitative","axis":null}}},
   {"data":{"name":"arB111"},"transform":[{"filter":"datum.a === 'L' && datum.h === 1"}],"mark":{"type":"point","shape":"triangle-left","filled":true,"size":55,"color":"#808080","opacity":1},"encoding":{"x":{"field":"E","type":"quantitative","axis":null},"y":{"field":"j","type":"quantitative","axis":null}}}
  ]},
 {"width":355,"height":266,
  "title":{"text":"C","font":"Liberation Sans","fontSize":28,"fontWeight":"bold","color":"#000000","anchor":"start","frame":"group","offset":-26,"dx":-66,"dy":24,"baseline":"alphabetic"},
  "layer":[
   {"data":{"name":"c100"},"transform":[{"filter":"datum.s === 'NaOH'"}],"mark":{"type":"line","clip":true,"fill":"#add8e6","fillOpacity":0.25,"strokeOpacity":0},
    "encoding":{"x":{"field":"E","type":"quantitative","scale":{"domain":[-0.5,0.6],"nice":false,"zero":false},"axis":{"values":[-0.5,-0.3,-0.1,0.1,0.3,0.5],"tickCount":20,"format":".1f","labelOverlap":false,"labelPadding":2,"title":"E vs. RHE / V","titleFontStyle":"italic","titlePadding":2}},
     "y":{"field":"j","type":"quantitative","scale":{"domain":[-50,40],"nice":false,"zero":false},"axis":{"values":[-50,-40,-30,-20,-10,0,10,20,30,40],"tickCount":20,"labelOverlap":false,"title":"j / μA cm⁻²"}},
     "order":{"value":null}}},
   {"data":{"values":[{}]},"mark":{"type":"rule","color":"#999999","strokeWidth":0.8,"strokeDash":[1,1.5]},"encoding":{"y":{"datum":0}}},
   {"data":{"name":"c100"},"mark":{"type":"line","clip":true,"strokeWidth":1.5},
    "encoding":{"x":{"field":"E","type":"quantitative"},"y":{"field":"j","type":"quantitative"},
     "color":{"field":"s","type":"nominal","scale":{"domain":["NaOH","K₂SO4"],"range":["#add8e6","#000000"]},"legend":{"title":null,"orient":"top-left","offset":7,"padding":4,"symbolType":"M-1,0L3,0","symbolSize":196,"symbolStrokeWidth":1.5,"labelOffset":23,"labelFontSize":13,"rowPadding":4,"strokeColor":"#cccccc","cornerRadius":3,"fillColor":"#ffffff"}},
     "order":{"value":null}}},
   {"data":{"name":"arC100"},"mark":{"type":"line","color":"#000000","strokeWidth":1.5},"encoding":{"x":{"field":"E","type":"quantitative"},"y":{"field":"j","type":"quantitative"},"detail":{"field":"a","type":"nominal"}}},
   {"data":{"name":"arC100"},"transform":[{"filter":"datum.a === 'R' && datum.h === 1"}],"mark":{"type":"point","shape":"triangle-right","filled":true,"size":55,"color":"#000000","opacity":1},"encoding":{"x":{"field":"E","type":"quantitative"},"y":{"field":"j","type":"quantitative"}}},
   {"data":{"name":"arC100"},"transform":[{"filter":"datum.a === 'L' && datum.h === 1"}],"mark":{"type":"point","shape":"triangle-left","filled":true,"size":55,"color":"#000000","opacity":1},"encoding":{"x":{"field":"E","type":"quantitative"},"y":{"field":"j","type":"quantitative"}}},
   {"data":{"values":[{}]},"mark":{"type":"text","fontSize":12.5,"color":"#222222"},"encoding":{"x":{"datum":0.075},"y":{"datum":36.3},"text":{"value":"Cu(100), 0.1 M K₂SO₄"}}}
  ]},
 {"width":355,"height":266,
  "layer":[
   {"data":{"name":"c110"},"transform":[{"filter":"datum.s === 'NaOH'"}],"mark":{"type":"line","clip":true,"fill":"#add8e6","fillOpacity":0.25,"strokeOpacity":0},
    "encoding":{"x":{"field":"E","type":"quantitative","scale":{"domain":[-0.5,0.6],"nice":false,"zero":false},"axis":{"values":[-0.5,-0.3,-0.1,0.1,0.3,0.5],"tickCount":20,"format":".1f","labelOverlap":false,"labelPadding":2,"title":"E vs. RHE / V","titleFontStyle":"italic","titlePadding":2}},
     "y":{"field":"j","type":"quantitative","scale":{"domain":[-50,40],"nice":false,"zero":false},"axis":null},
     "order":{"value":null}}},
   {"data":{"values":[{}]},"mark":{"type":"rule","color":"#999999","strokeWidth":0.8,"strokeDash":[1,1.5]},"encoding":{"y":{"datum":0,"axis":null}}},
   {"data":{"name":"c110"},"mark":{"type":"line","clip":true,"strokeWidth":1.5},
    "encoding":{"x":{"field":"E","type":"quantitative"},"y":{"field":"j","type":"quantitative","axis":null},
     "color":{"field":"s","type":"nominal","scale":{"domain":["NaOH","K₂SO4"],"range":["#add8e6","#000000"]},"legend":{"title":null,"orient":"top-left","offset":7,"padding":4,"symbolType":"M-1,0L3,0","symbolSize":196,"symbolStrokeWidth":1.5,"labelOffset":23,"labelFontSize":13,"rowPadding":4,"strokeColor":"#cccccc","cornerRadius":3,"fillColor":"#ffffff"}},
     "order":{"value":null}}},
   {"data":{"name":"arC110"},"mark":{"type":"line","color":"#000000","strokeWidth":1.5},"encoding":{"x":{"field":"E","type":"quantitative"},"y":{"field":"j","type":"quantitative","axis":null},"detail":{"field":"a","type":"nominal"}}},
   {"data":{"name":"arC110"},"transform":[{"filter":"datum.a === 'R' && datum.h === 1"}],"mark":{"type":"point","shape":"triangle-right","filled":true,"size":55,"color":"#000000","opacity":1},"encoding":{"x":{"field":"E","type":"quantitative"},"y":{"field":"j","type":"quantitative","axis":null}}},
   {"data":{"name":"arC110"},"transform":[{"filter":"datum.a === 'L' && datum.h === 1"}],"mark":{"type":"point","shape":"triangle-left","filled":true,"size":55,"color":"#000000","opacity":1},"encoding":{"x":{"field":"E","type":"quantitative"},"y":{"field":"j","type":"quantitative","axis":null}}},
   {"data":{"values":[{}]},"mark":{"type":"text","fontSize":12.5,"color":"#222222"},"encoding":{"x":{"datum":0.0725},"y":{"datum":36.3,"axis":null},"text":{"value":"Cu(110), 0.1 M K₂SO₄"}}}
  ]},
 {"width":339,"height":266,
  "layer":[
   {"data":{"name":"c111"},"transform":[{"filter":"datum.s === 'NaOH'"}],"mark":{"type":"line","clip":true,"fill":"#add8e6","fillOpacity":0.25,"strokeOpacity":0},
    "encoding":{"x":{"field":"E","type":"quantitative","scale":{"domain":[-0.5,0.55],"nice":false,"zero":false},"axis":{"values":[-0.5,-0.3,-0.1,0.1,0.3,0.5],"tickCount":20,"format":".1f","labelOverlap":false,"labelPadding":2,"title":"E vs. RHE / V","titleFontStyle":"italic","titlePadding":2}},
     "y":{"field":"j","type":"quantitative","scale":{"domain":[-50,40],"nice":false,"zero":false},"axis":null},
     "order":{"value":null}}},
   {"data":{"values":[{}]},"mark":{"type":"rule","color":"#999999","strokeWidth":0.8,"strokeDash":[1,1.5]},"encoding":{"y":{"datum":0,"axis":null}}},
   {"data":{"name":"c111"},"mark":{"type":"line","clip":true,"strokeWidth":1.5},
    "encoding":{"x":{"field":"E","type":"quantitative"},"y":{"field":"j","type":"quantitative","axis":null},
     "color":{"field":"s","type":"nominal","scale":{"domain":["NaOH","K₂SO4"],"range":["#add8e6","#000000"]},"legend":{"title":null,"orient":"top-left","offset":7,"padding":4,"symbolType":"M-1,0L3,0","symbolSize":196,"symbolStrokeWidth":1.5,"labelOffset":23,"labelFontSize":13,"rowPadding":4,"strokeColor":"#cccccc","cornerRadius":3,"fillColor":"#ffffff"}},
     "order":{"value":null}}},
   {"data":{"name":"arC111"},"mark":{"type":"line","color":"#000000","strokeWidth":1.5},"encoding":{"x":{"field":"E","type":"quantitative"},"y":{"field":"j","type":"quantitative","axis":null},"detail":{"field":"a","type":"nominal"}}},
   {"data":{"name":"arC111"},"transform":[{"filter":"datum.a === 'R' && datum.h === 1"}],"mark":{"type":"point","shape":"triangle-right","filled":true,"size":55,"color":"#000000","opacity":1},"encoding":{"x":{"field":"E","type":"quantitative"},"y":{"field":"j","type":"quantitative","axis":null}}},
   {"data":{"name":"arC111"},"transform":[{"filter":"datum.a === 'L' && datum.h === 1"}],"mark":{"type":"point","shape":"triangle-left","filled":true,"size":55,"color":"#000000","opacity":1},"encoding":{"x":{"field":"E","type":"quantitative"},"y":{"field":"j","type":"quantitative","axis":null}}},
   {"data":{"values":[{}]},"mark":{"type":"text","fontSize":12.5,"color":"#222222"},"encoding":{"x":{"datum":0.0787},"y":{"datum":36.3,"axis":null},"text":{"value":"Cu(111), 0.1 M K₂SO₄"}}}
  ]}
],
"config":{
 "font":"DejaVu Sans",
 "view":{"stroke":"#555555","strokeWidth":1},
 "axis":{"domain":false,"grid":false,"gridColor":"#e6e6e6","gridWidth":0.8,"tickColor":"#555555","tickSize":4,"tickWidth":1,"labelFont":"DejaVu Sans","labelFontSize":13,"labelColor":"#222222","labelPadding":3,"titleFont":"DejaVu Sans","titleFontSize":14,"titleFontWeight":"normal","titleColor":"#222222","labelFlush":false,"labelOverlap":false},
 "legend":{"labelFont":"DejaVu Sans","labelColor":"#222222"}
}
}
